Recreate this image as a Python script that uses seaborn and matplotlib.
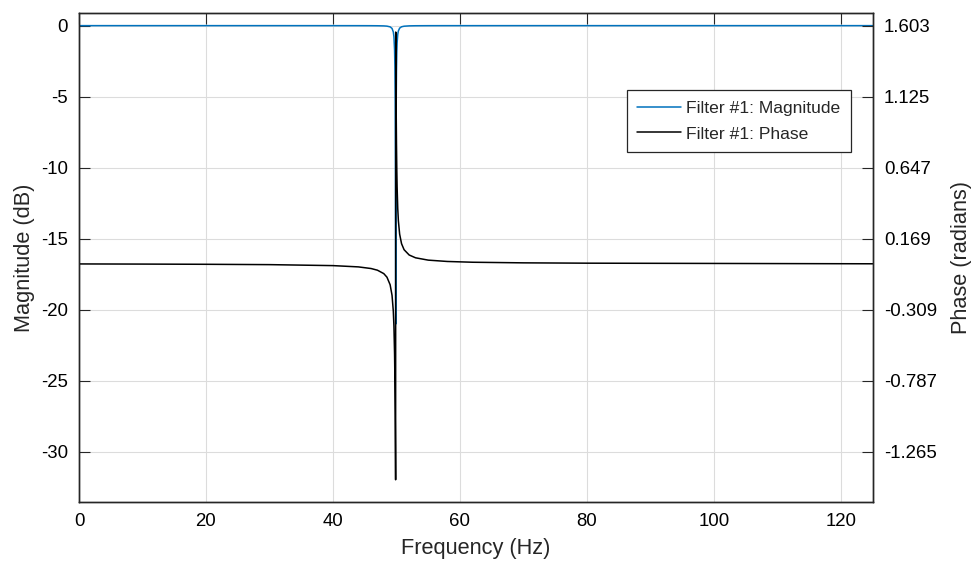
import numpy as np
import pandas as pd
import matplotlib
matplotlib.use("Agg")
import matplotlib.pyplot as plt
import seaborn as sns

# ---- data ----
freq_hz = [0, 10, 20, 30, 40, 44, 46, 47, 48, 48.5, 49, 49.3, 49.5, 49.6, 49.7,
           49.75, 49.8, 49.84, 49.865, 49.883, 49.9, 49.93, 49.96, 50.0, 50.05,
           50.1, 50.2, 50.3, 50.5, 50.8, 51.2, 52, 53, 55, 58, 62, 70, 80, 100, 125]
magnitude_db = [0, 0, 0, 0, -0.001, -0.002, -0.004, -0.008, -0.018, -0.035, -0.086,
                -0.195, -0.444, -0.786, -1.709, -2.843, -5.363, -10.35, -18.52,
                -21.0, -16.02, -8.60, -5.36, -3.19, -1.88, -1.217, -0.619, -0.371,
                -0.174, -0.080, -0.040, -0.016, -0.007, -0.003, -0.001, -0.001,
                0, 0, 0, 0]
phase_rad = [0, -0.001, -0.0024, -0.0047, -0.0113, -0.0199, -0.0309, -0.0421,
             -0.0651, -0.0891, -0.140, -0.211, -0.317, -0.419, -0.607, -0.766,
             -1.002, -1.262, -1.452, 1.56, 1.412, 1.190, 1.002, 0.806, 0.634,
             0.517, 0.373, 0.290, 0.200, 0.136, 0.0956, 0.0601, 0.0413, 0.0256,
             0.0166, 0.0114, 0.0073, 0.0051, 0.0033, 0.001]

x_ticks = [0, 20, 40, 60, 80, 100, 120]
left_ticks = [0, -5, -10, -15, -20, -25, -30]
right_tick_labels = ["1.603", "1.125", "0.647", "0.169", "-0.309", "-0.787", "-1.265"]
left_lim = (-33.5, 0.89)
right_top, right_scale = 1.603, 0.0956  # phase = right_top + right_scale * dB

df = pd.DataFrame({"Frequency (Hz)": freq_hz,
                   "Magnitude (dB)": magnitude_db,
                   "Phase (radians)": phase_rad})

sns.set_style("white")
plt.rcParams["font.family"] = ["Liberation Sans", "DejaVu Sans"]
plt.rcParams["font.size"] = 12

fig = plt.figure(figsize=(9.79, 5.65), dpi=100)
ax = fig.add_axes([0.0807, 0.112, 0.8107, 0.865])
ax2 = ax.twinx()

edge = "#262626"
sns.lineplot(data=df, x="Frequency (Hz)", y="Magnitude (dB)", ax=ax,
             color="#0072BD", lw=1.1, label="Filter #1: Magnitude", legend=False,
             estimator=None, sort=False)
sns.lineplot(data=df, x="Frequency (Hz)", y="Phase (radians)", ax=ax2,
             color="black", lw=1.1, label="Filter #1: Phase", legend=False,
             estimator=None, sort=False)

ax.set_xlim(0, 125)
ax.set_ylim(*left_lim)
ax2.set_ylim(right_top + right_scale * left_lim[0], right_top + right_scale * left_lim[1])

ax.set_xticks(x_ticks)
ax.set_xticklabels([str(t) for t in x_ticks])
ax.set_yticks(left_ticks)
ax.set_yticklabels([str(t) for t in left_ticks])
ax2.set_yticks([right_top + right_scale * t for t in left_ticks])
ax2.set_yticklabels(right_tick_labels)

ax.grid(True, color="#dcdcdc", lw=0.8)
ax2.grid(False)
ax.set_axisbelow(True)

for a in (ax, ax2):
    for s in a.spines.values():
        s.set_color(edge)
        s.set_linewidth(1.0)
ax.tick_params(axis="both", direction="in", length=8, width=0.8, color=edge,
               labelsize=13.4, labelcolor="black", pad=8, top=True)
ax.tick_params(axis="y", left=True, right=False)
ax2.tick_params(axis="y", direction="in", length=8, width=0.8, color=edge,
                labelsize=13.4, labelcolor="black", pad=8, right=True)

ax.set_xlabel("Frequency (Hz)", fontsize=15.7, labelpad=6, color=edge)
ax.set_ylabel("Magnitude (dB)", fontsize=15.7, labelpad=4, color=edge)
ax2.set_ylabel("Phase (radians)", fontsize=15.7, labelpad=10, color=edge)

h1, l1 = ax.get_legend_handles_labels()
h2, l2 = ax2.get_legend_handles_labels()
leg = ax2.legend(h1 + h2, l1 + l2, loc="upper right", bbox_to_anchor=(0.9727, 0.8424),
                 fontsize=12.6, frameon=True, fancybox=False, framealpha=1,
                 edgecolor=edge, borderpad=0.6, handlelength=2.5, labelspacing=0.6,
                 handletextpad=0.3, borderaxespad=0)
leg.get_frame().set_linewidth(0.9)

fig.savefig("out.png", dpi=100)
